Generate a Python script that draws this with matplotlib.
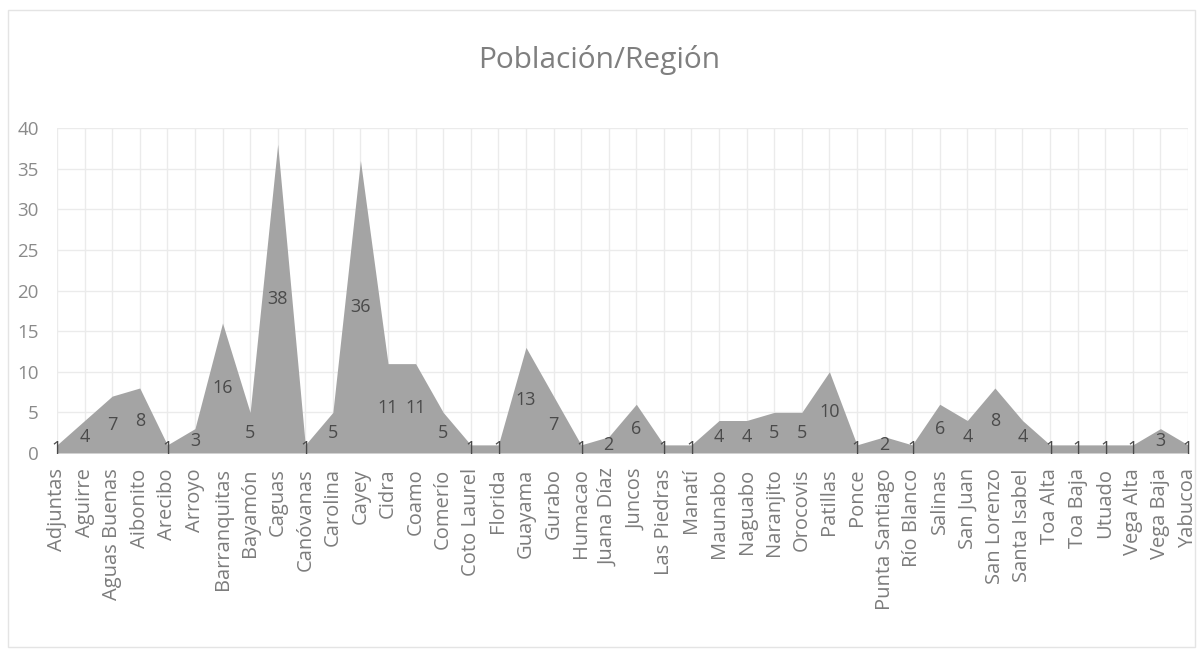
import matplotlib
matplotlib.use("Agg")
import matplotlib.pyplot as plt
from matplotlib.patches import Rectangle
import numpy as np

regions = [
    "Adjuntas", "Aguirre", "Aguas Buenas", "Aibonito", "Arecibo", "Arroyo",
    "Barranquitas", "Bayamón", "Caguas", "Canóvanas", "Carolina", "Cayey",
    "Cidra", "Coamo", "Comerío", "Coto Laurel", "Florida", "Guayama",
    "Gurabo", "Humacao", "Juana Díaz", "Juncos", "Las Piedras", "Manatí",
    "Maunabo", "Naguabo", "Naranjito", "Orocovis", "Patillas", "Ponce",
    "Punta Santiago", "Río Blanco", "Salinas", "San Juan", "San Lorenzo",
    "Santa Isabel", "Toa Alta", "Toa Baja", "Utuado", "Vega Alta",
    "Vega Baja", "Yabucoa",
]
poblacion = [
    1, 4, 7, 8, 1, 3,
    16, 5, 38, 1, 5, 36,
    11, 11, 5, 1, 1, 13,
    7, 1, 2, 6, 1, 1,
    4, 4, 5, 5, 10, 1,
    2, 1, 6, 4, 8, 4,
    1, 1, 1, 1, 3, 1,
]
y_ticks = [0, 5, 10, 15, 20, 25, 30, 35, 40]

plt.rcParams["font.family"] = ["Open Sans", "DejaVu Sans"]

W, H = 1198, 650
fig = plt.figure(figsize=(W / 100, H / 100), dpi=100)
fig.patch.set_facecolor("white")

# chart frame
fig.patches.append(Rectangle((8 / W, 3 / H), 1187 / W, 637 / H,
                             transform=fig.transFigure, fill=False,
                             edgecolor="#e4e4e4", linewidth=1.0))

ax = fig.add_axes([57 / W, 1 - 453 / H, 1131 / W, 325 / H])
x = np.arange(len(regions))
vals = np.array(poblacion, dtype=float)

ax.fill_between(x, 0, vals, color="#a4a4a4", linewidth=0, zorder=2)

ax.set_xlim(0, len(regions) - 1)
ax.set_ylim(0, 40)
ax.set_yticks(y_ticks)
ax.set_xticks(x)
ax.set_xticklabels(regions, rotation=90, fontsize=14.5, color="#7c7c7c")
ax.tick_params(axis="y", labelsize=13.5, labelcolor="#8a8a8a", length=0, pad=13)
ax.tick_params(axis="x", length=0, pad=11)

ax.grid(True, color="#ebebeb", linewidth=1.0, zorder=0)
ax.set_axisbelow(True)
for s in ax.spines.values():
    s.set_visible(False)

# data labels, centred halfway up each value
for xi, v in zip(x, vals):
    ax.text(xi, v / 2, f"{int(v)}", ha="center", va="center",
            fontsize=13, color="#4a4a4a", zorder=3)

fig.text(0.5, 1 - 60 / H, "Población/Región", ha="center", va="center",
         fontsize=21.5, color="#7f7f7f")

fig.savefig("out.png", dpi=100, facecolor="white")
